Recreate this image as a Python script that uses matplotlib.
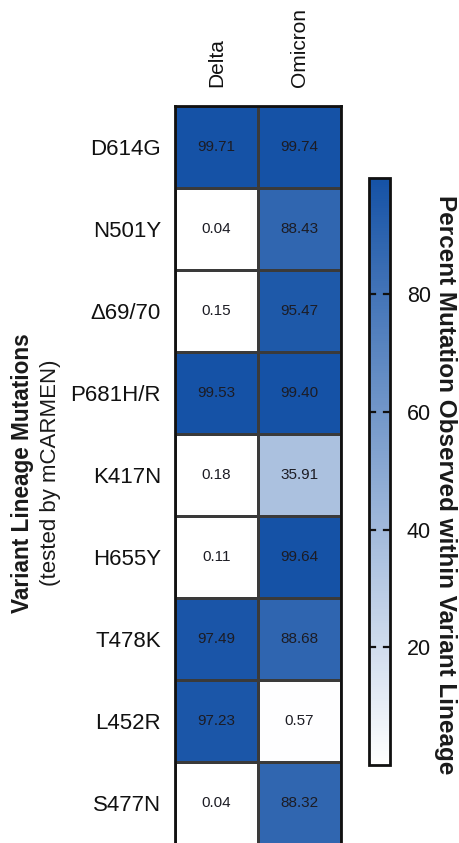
import numpy as np
import matplotlib
matplotlib.use("Agg")
import matplotlib.pyplot as plt
from matplotlib.colors import LinearSegmentedColormap

plt.rcParams['font.family'] = ['Liberation Sans', 'DejaVu Sans']

mutations = ["D614G", "N501Y", "\u039469/70", "P681H/R", "K417N",
             "H655Y", "T478K", "L452R", "S477N"]
variants = ["Delta", "Omicron"]
delta = [99.71, 0.04, 0.15, 99.53, 0.18, 0.11, 97.49, 97.23, 0.04]
omicron = [99.74, 88.43, 95.47, 99.40, 35.91, 99.64, 88.68, 0.57, 88.32]
cbar_ticks = [20, 40, 60, 80]

values = np.column_stack([delta, omicron])
vmax = values.max()

cmap = LinearSegmentedColormap.from_list("white_blue", ["#ffffff", "#1552a6"])

W, H = 460, 843
fig = plt.figure(figsize=(W / 100, H / 100), dpi=100)

def fx(px):
    return px / W

def fy(py):
    return 1 - py / H

# heatmap axes
x0, x1, y0, y1 = 175, 341, 106, 844
ax = fig.add_axes([fx(x0), fy(y1), fx(x1) - fx(x0), fy(y0) - fy(y1)])
mesh = ax.pcolormesh(values, cmap=cmap, vmin=0, vmax=vmax,
                     edgecolors="#3a3a3a", linewidth=0.8)
ax.set_xlim(0, 2)
ax.set_ylim(len(mutations), 0)
for r in range(len(mutations)):
    for c in range(2):
        ax.text(c + 0.5, r + 0.5, f"{values[r, c]:.2f}", ha="center", va="center",
                fontsize=11, color="#1c1c24")
ax.set_yticks(np.arange(len(mutations)) + 0.5)
ax.set_yticklabels(mutations, fontsize=16, color="#111111")
ax.set_xticks(np.arange(2) + 0.5)
ax.set_xticklabels(variants, rotation=90, fontsize=15, color="#111111")
ax.xaxis.tick_top()
ax.tick_params(axis="both", length=0)
ax.tick_params(axis="y", pad=10)
ax.tick_params(axis="x", pad=14)
for s in ax.spines.values():
    s.set_linewidth(2)
    s.set_color("#111111")

# axis title, two lines
fig.text(fx(23), fy(473), "Variant Lineage Mutations", rotation=90,
         ha="center", va="center", fontsize=16.3, fontweight="bold", color="#1a1a1a")
fig.text(fx(51), fy(473), "(tested by mCARMEN)", rotation=90,
         ha="center", va="center", fontsize=16, color="#1a1a1a")

# colorbar
cx0, cx1, cy0, cy1 = 369, 390, 178, 765
cax = fig.add_axes([fx(cx0), fy(cy1), fx(cx1) - fx(cx0), fy(cy0) - fy(cy1)])
cb = fig.colorbar(mesh, cax=cax)
cb.set_ticks(cbar_ticks)
cax.tick_params(axis="y", which="both", length=0, labelsize=15.5, pad=12,
                colors="#111111")
# inward tick dashes on both edges of the bar
for t in cbar_ticks:
    cax.axhline(t, xmin=0.0, xmax=0.3, color="#111111", lw=1.6)
    cax.axhline(t, xmin=0.7, xmax=1.0, color="#111111", lw=1.6)
cb.outline.set_linewidth(2)
cb.outline.set_edgecolor("#111111")
fig.text(fx(446), fy(485), "Percent Mutation Observed within Variant Lineage",
         rotation=-90, ha="center", va="center", fontsize=17.5, fontweight="bold",
         color="#1a1a1a")

fig.savefig("out.png", dpi=100)
